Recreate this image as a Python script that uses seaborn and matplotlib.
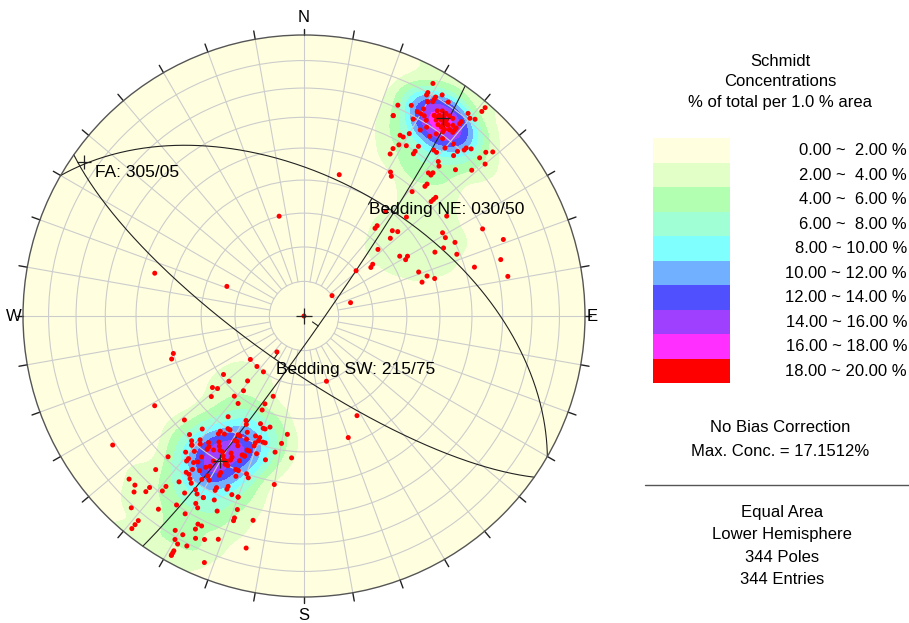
import numpy as np
import matplotlib
matplotlib.use("Agg")
import matplotlib.pyplot as plt
from matplotlib.patches import Circle, Rectangle
import seaborn as sns

# ---- data: poles to bedding (trend, plunge in degrees), read from the net ----
pole_trend = [
29,29,29,32,31,31,31,30,30,24,27,34,30,29,30,24,24,29,31,32,33,34,34,35,35,39,40,41,41,41,
39,39,39,39,39,37,38,33,36,37,36,35,38,32,28,29,30,29,31,34,34,34,28,38,39,40,41,44,45,43,
44,43,48,49,48,28,41,42,46,49,50,31,32,41,42,43,43,41,48,14,42,48,48,38,46,55,39,39,46,48,
48,59,61,64,64,69,64,48,64,68,58,60,61,53,54,74,74,49,69,72,74,74,79,54,74,346,286,291,254,252,
217,231,161,152,160,0,239,229,236,224,222,221,221,221,219,219,224,217,216,216,217,224,227,225,222,222,
219,219,224,217,215,214,214,214,222,217,211,219,219,219,211,209,210,209,207,209,209,209,209,219,212,211,
214,206,202,223,216,234,221,229,232,230,219,229,221,201,204,217,204,217,209,208,202,197,199,200,222,216,
216,214,214,213,209,208,206,205,202,200,200,201,201,198,197,188,190,220,219,217,216,216,214,213,212,214,
209,208,207,203,202,203,204,203,204,208,207,199,192,185,195,209,208,209,216,216,212,212,213,207,208,208,
204,203,203,200,199,211,210,212,204,204,207,207,190,202,200,200,209,209,210,209,206,199,204,199,194,199,
207,206,207,204,201,194]
pole_plunge = [
6,10,11,8,10,11,12,13,13,19,17,9,16,18,18,23,23,21,18,19,16,16,15,15,13,8,9,8,2,4,
12,13,15,16,17,16,17,21,18,19,21,23,21,23,28,28,26,31,30,28,30,31,33,26,26,23,20,18,17,21,
19,23,14,12,17,35,28,29,26,22,17,40,41,33,32,36,37,41,37,47,33,39,38,51,48,38,56,57,54,53,
56,42,42,40,30,25,44,61,47,41,57,55,56,65,66,28,37,70,54,52,50,54,27,80,76,60,44,66,50,49,
77,70,70,57,52,90,38,43,19,41,40,39,39,36,35,34,31,35,33,31,31,25,16,16,19,17,23,21,14,27,
30,29,25,20,9,15,19,7,5,3,12,12,9,8,9,5,4,3,3,38,28,27,34,13,6,70,70,61,65,61,56,57,62,54,
59,65,62,58,60,53,55,54,56,56,55,55,45,48,47,48,50,50,50,50,52,50,52,52,51,50,49,51,51,55,52,
42,41,43,41,42,45,44,43,42,48,48,47,47,47,45,45,45,43,44,43,47,49,48,46,41,41,41,38,36,39,37,
36,40,37,36,40,40,38,40,39,34,33,32,34,33,32,31,39,32,32,32,27,27,24,23,28,28,25,25,26,24,18,
18,16,14,16,16]
# poles hidden under overlapping symbols in the two cluster cores (estimated)
hidden_trend = [33, 34, 35, 36, 37, 35, 36, 34, 38, 37, 35, 33, 36, 38, 34, 37, 36, 35,
                209, 210, 208, 211, 207]
hidden_plunge = [14, 15, 16, 15, 16, 14, 17, 17, 15, 13, 18, 16, 13, 17, 13, 18, 16, 15,
                 41, 42, 40, 43, 42]

plane_labels = ["Bedding NE: 030/50", "Bedding SW: 215/75", ""]
plane_dipdir = [30, 215, 125]
plane_dip = [50, 75, 85]
fa_label = "FA: 305/05"
fa_trend, fa_plunge = 305, 5
level_bounds = [0, 2, 4, 6, 8, 10, 12, 14, 16, 18, 20]
level_colors = ['#FFFFE0', '#E2FFC8', '#B2FFB2', '#A0FFD4', '#80FFFF',
                '#70B0FF', '#5050FF', '#A040FF', '#FF30FF', '#FF0000']
info_top = ["Schmidt", "Concentrations", "% of total per 1.0 % area"]
info_mid = ["No Bias Correction", "Max. Conc. = 17.1512%"]
info_bot = ["Equal Area", "Lower Hemisphere", "344 Poles", "344 Entries"]

sns.set_theme(style="white")
plt.rcParams['font.family'] = ['Liberation Sans', 'DejaVu Sans']
plt.rcParams['text.color'] = 'black'

CX, CY, RPX = 304.0, 316.0, 281.0   # net centre / radius in figure pixels
fig = plt.figure(figsize=(9.09, 6.23), dpi=100)
axl = fig.add_axes([0, 0, 1, 1], zorder=0)
axl.set_xlim(0, 909); axl.set_ylim(623, 0); axl.axis('off')
ax = fig.add_axes([(CX - 300) / 909, (623 - CY - 300) / 623, 600 / 909, 600 / 623], zorder=1)
lim = 300 / RPX
ax.set_xlim(-lim, lim); ax.set_ylim(-lim, lim); ax.set_aspect('equal'); ax.axis('off')
ax.patch.set_alpha(0)


def vec(trend, plunge):
    t = np.radians(np.asarray(trend, float)); p = np.radians(np.asarray(plunge, float))
    return np.stack([np.cos(p) * np.sin(t), np.cos(p) * np.cos(t), np.sin(p)], axis=-1)


def proj(trend, plunge):
    """Equal-area (Schmidt) lower-hemisphere projection."""
    t = np.radians(np.asarray(trend, float)); p = np.radians(np.asarray(plunge, float))
    r = np.sqrt(1 - np.sin(p))
    return r * np.sin(t), r * np.cos(t)


def great_circle(dd, dip, n=400):
    d = np.radians(dd); dp = np.radians(dip)
    s = np.array([np.sin(d - np.pi / 2), np.cos(d - np.pi / 2), 0.0])
    v = np.array([np.sin(d) * np.cos(dp), np.cos(d) * np.cos(dp), np.sin(dp)])
    t = np.linspace(0, np.pi, n)
    w = np.outer(np.cos(t), s) + np.outer(np.sin(t), v)
    D = np.clip(w[:, 2], 0, 1)
    return w[:, 0] / np.sqrt(1 + D), w[:, 1] / np.sqrt(1 + D)


circ = Circle((0, 0), 1, facecolor=level_colors[0], edgecolor='none', zorder=0)
ax.add_patch(circ)

all_trend = pole_trend + hidden_trend
all_plunge = pole_plunge + hidden_plunge

# ---- density: counting circle of 1 % area (soft edge), % of total ----
V = vec(all_trend, all_plunge)
g = np.linspace(-1.02, 1.02, 171)
GX, GY = np.meshgrid(g, g)
r = np.hypot(GX, GY); rc = np.minimum(r, 1.0)
Dg = 1 - rc ** 2
hg = np.sqrt(np.clip(1 - Dg ** 2, 0, 1))
rs = np.where(r > 0, r, 1)
G = np.stack([GX / rs * hg, GY / rs * hg, Dg], -1).reshape(-1, 3)
ang = np.degrees(np.arccos(np.clip(np.abs(G @ V.T), 0, 1)))
cap = np.degrees(np.arccos(0.99))
w = 1.0 / (1.0 + np.exp((ang - cap) / 1.5))
dens = w.sum(1).reshape(GX.shape) / len(V) * 100
cf = ax.contourf(GX, GY, dens, levels=level_bounds[1:], colors=level_colors[1:], zorder=1)
cf.set_clip_path(circ)

# ---- net grid ----
gcol = '#CCCCCC'
for pl in range(10, 90, 10):
    rr = np.sqrt(1 - np.sin(np.radians(pl)))
    ax.add_patch(Circle((0, 0), rr, facecolor='none', edgecolor=gcol, lw=0.8, zorder=2))
r80 = np.sqrt(1 - np.sin(np.radians(80)))
for az in range(0, 360, 10):
    a = np.radians(az)
    r0 = 0 if az % 90 == 0 else r80
    ax.plot([r0 * np.sin(a), np.sin(a)], [r0 * np.cos(a), np.cos(a)], color=gcol, lw=0.8, zorder=2)
    tl = 1.022 if az % 90 == 0 else 1.03
    ax.plot([np.sin(a), tl * np.sin(a)], [np.cos(a), tl * np.cos(a)], color='#222222', lw=1.0, zorder=6)
ax.add_patch(Circle((0, 0), 1, facecolor='none', edgecolor='#555555', lw=1.0, zorder=6))

# ---- great circles ----
for dd, dp in zip(plane_dipdir, plane_dip):
    gx, gy = great_circle(dd, dp)
    ax.plot(gx, gy, color='#222222', lw=0.8, zorder=3)
    mx, my = proj(dd, dp)
    rr = np.hypot(mx, my)
    ax.plot([mx, mx * (1 - 0.025 / rr)], [my, my * (1 - 0.025 / rr)], color='#222222', lw=0.8, zorder=3)
    if dp != 85:
        px_, py_ = proj(dd + 180, 90 - dp)
        ax.plot(px_, py_, marker='+', ms=10, mew=0.9, color='#222222', zorder=7)

xs, ys = proj(all_trend, all_plunge)
sns.scatterplot(x=xs, y=ys, ax=ax, color='red', s=13, edgecolor='none', zorder=5, legend=False)
fx, fy = proj(fa_trend, fa_plunge)
ax.plot(fx, fy, marker='+', ms=10, mew=0.9, color='#222222', zorder=7)
ax.plot(0, 0, marker='+', ms=11, mew=0.9, color='#222222', zorder=7)


def T(x, y):
    return (x - CX) / RPX, (CY - y) / RPX


fs_in = 12.5
ax.text(*T(95, 173), fa_label, fontsize=fs_in, ha='left', va='center', zorder=8)
ax.text(*T(369, 210), plane_labels[0], fontsize=fs_in, ha='left', va='center', zorder=8)
ax.text(*T(276, 370), plane_labels[1], fontsize=fs_in, ha='left', va='center', zorder=8)
for lab, (xx, yy) in zip("NESW", [(304, 18), (592, 317), (304, 615), (14, 317)]):
    ax.text(*T(xx, yy), lab, fontsize=12, ha='center', va='center', zorder=8)

# ---- right-hand panel ----
fs = 12
for txt, yy in zip(info_top, [61, 82, 103]):
    axl.text(780, yy, txt, fontsize=fs, ha='center', va='center')
top, bh = 138.3, 24.5
for i in range(10):
    axl.add_patch(Rectangle((653, top + i * bh), 77, bh, facecolor=level_colors[i], edgecolor='none'))
    lo, hi = level_bounds[i], level_bounds[i + 1]
    axl.text(907, top + (i + 0.5) * bh, f"{lo:.2f} ~ {hi:5.2f} %", fontsize=fs, ha='right', va='center')
for txt, yy in zip(info_mid, [428, 452]):
    axl.text(780, yy, txt, fontsize=fs, ha='center', va='center')
axl.plot([645, 909], [485, 485], color='#555555', lw=1)
for txt, yy in zip(info_bot, [512, 535, 557, 580]):
    axl.text(782, yy, txt, fontsize=fs, ha='center', va='center')

fig.savefig('out.png', dpi=100)
